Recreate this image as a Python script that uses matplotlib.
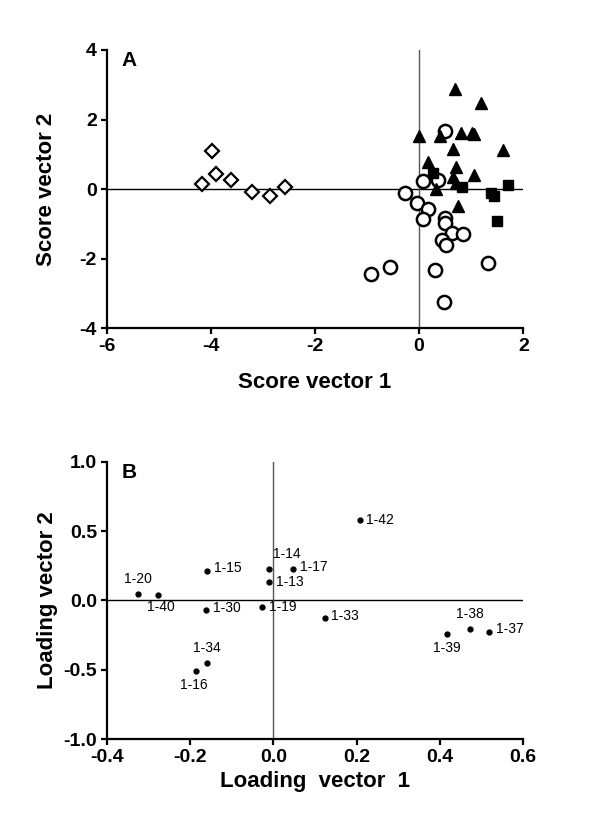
import matplotlib
matplotlib.use("Agg")
import matplotlib.pyplot as plt

plt.rcParams['font.family'] = ['Liberation Sans', 'DejaVu Sans']
plt.rcParams['axes.unicode_minus'] = False

# panel A: score plot, four groups
diamond_x = [-4.17, -3.97, -3.91, -3.62, -3.21, -2.87, -2.58]
diamond_y = [0.15, 1.10, 0.44, 0.27, -0.09, -0.19, 0.07]

circle_x = [0.49, 0.08, 0.36, -0.27, -0.05, 0.18, 0.08, 0.49, 0.49, 0.64,
            0.85, 0.44, 0.51, -0.55, -0.92, 0.30, 1.33, 0.47]
circle_y = [1.68, 0.22, 0.25, -0.12, -0.39, -0.57, -0.87, -0.82, -0.96, -1.26,
            -1.30, -1.45, -1.61, -2.23, -2.44, -2.33, -2.11, -3.23]

triangle_x = [0.68, 1.19, 0.0, 0.41, 0.81, 1.02, 1.05, 0.65, 1.62, 0.17,
              0.70, 1.06, 0.65, 0.71, 0.32, 0.75]
triangle_y = [2.87, 2.48, 1.52, 1.52, 1.62, 1.62, 1.58, 1.15, 1.12, 0.77,
              0.65, 0.41, 0.35, 0.17, 0.0, -0.48]

square_x = [0.26, 0.82, 1.39, 1.44, 1.71, 1.50]
square_y = [0.46, 0.06, -0.12, -0.19, 0.13, -0.93]

# panel B: loadings
load_names = ['1-42', '1-14', '1-17', '1-13', '1-15', '1-20', '1-40', '1-30',
              '1-19', '1-33', '1-34', '1-16', '1-39', '1-38', '1-37']
load_x = [0.207, -0.010, 0.047, -0.011, -0.159, -0.324, -0.276, -0.162,
          -0.026, 0.123, -0.159, -0.185, 0.417, 0.472, 0.518]
load_y = [0.58, 0.224, 0.224, 0.13, 0.21, 0.046, 0.041, -0.072,
          -0.046, -0.125, -0.454, -0.51, -0.24, -0.209, -0.228]
# label offsets in points (dx, dy) and alignment
label_pos = {
    '1-42': (5, 0, 'left', 'center'),
    '1-14': (3, 6, 'left', 'bottom'),
    '1-17': (5, 2, 'left', 'center'),
    '1-13': (5, 0, 'left', 'center'),
    '1-15': (5, 2, 'left', 'center'),
    '1-20': (0, 6, 'center', 'bottom'),
    '1-40': (2, -4, 'center', 'top'),
    '1-30': (5, 2, 'left', 'center'),
    '1-19': (5, 0, 'left', 'center'),
    '1-33': (5, 1, 'left', 'center'),
    '1-34': (0, 6, 'center', 'bottom'),
    '1-16': (-2, -5, 'center', 'top'),
    '1-39': (0, -5, 'center', 'top'),
    '1-38': (0, 6, 'center', 'bottom'),
    '1-37': (5, 2, 'left', 'center'),
}

fig = plt.figure(figsize=(6, 8.36), dpi=100)
ax1 = fig.add_axes([0.1778, 0.6073, 0.6943, 0.3329])
ax2 = fig.add_axes([0.1778, 0.1160, 0.6943, 0.3317])


def style(ax):
    for s in ['top', 'right']:
        ax.spines[s].set_visible(False)
    for s in ['left', 'bottom']:
        ax.spines[s].set_linewidth(1.6)
    ax.tick_params(width=1.6, length=4, labelsize=14, pad=3)
    for lab in ax.get_xticklabels() + ax.get_yticklabels():
        lab.set_fontweight('bold')


ax1.axhline(0, color='black', lw=1.0, zorder=1)
ax1.axvline(0, color='#555555', lw=1.0, zorder=1)
ax1.plot(diamond_x, diamond_y, 'D', ms=7.5, mfc='white', mec='black', mew=1.6, ls='none')
ax1.plot(circle_x, circle_y, 'o', ms=9.5, mfc='white', mec='black', mew=1.8, ls='none')
ax1.plot(triangle_x, triangle_y, '^', ms=8.5, color='black', ls='none')
ax1.plot(square_x, square_y, 's', ms=7.5, color='black', ls='none')
ax1.set_xlim(-6, 2)
ax1.set_ylim(-4, 4)
ax1.set_xticks([-6, -4, -2, 0, 2])
ax1.set_yticks([-4, -2, 0, 2, 4])
style(ax1)
ax1.set_xlabel('Score vector 1', fontsize=16, fontweight='bold', labelpad=12)
ax1.set_ylabel('Score vector 2', fontsize=16, fontweight='bold', labelpad=16)
ax1.text(0.035, 0.995, 'A', transform=ax1.transAxes, fontsize=15,
         fontweight='bold', va='top', ha='left')

ax2.axhline(0, color='black', lw=1.0, zorder=1)
ax2.axvline(0, color='#555555', lw=1.0, zorder=1)
ax2.plot(load_x, load_y, 'o', ms=3.5, color='black', ls='none')
for name, x, y in zip(load_names, load_x, load_y):
    dx, dy, ha, va = label_pos[name]
    ax2.annotate(name, (x, y), xytext=(dx, dy), textcoords='offset points',
                 ha=ha, va=va, fontsize=10)
ax2.set_xlim(-0.4, 0.6)
ax2.set_ylim(-1.0, 1.0)
ax2.set_xticks([-0.4, -0.2, 0.0, 0.2, 0.4, 0.6])
ax2.set_yticks([-1.0, -0.5, 0.0, 0.5, 1.0])
ax2.set_xticklabels(['-0.4', '-0.2', '0.0', '0.2', '0.4', '0.6'])
ax2.set_yticklabels(['-1.0', '-0.5', '0.0', '0.5', '1.0'])
style(ax2)
ax2.set_xlabel('Loading  vector  1', fontsize=16, fontweight='bold', labelpad=4)
ax2.set_ylabel('Loading vector 2', fontsize=16, fontweight='bold', labelpad=4)
ax2.text(0.035, 0.995, 'B', transform=ax2.transAxes, fontsize=15,
         fontweight='bold', va='top', ha='left')

fig.savefig('out.png', dpi=100)
